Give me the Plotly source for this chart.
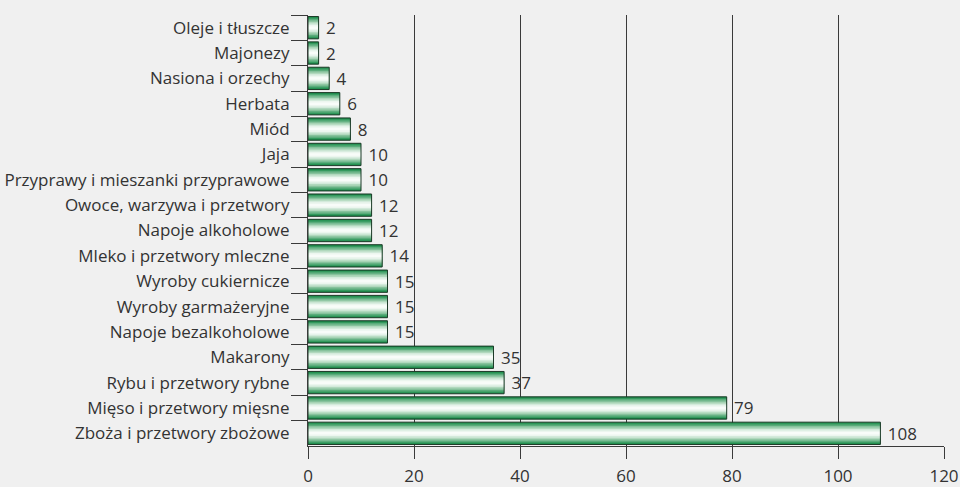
import plotly.graph_objects as go

categories = [
    "Oleje i tłuszcze", "Majonezy", "Nasiona i orzechy", "Herbata", "Miód", "Jaja",
    "Przyprawy i mieszanki przyprawowe", "Owoce, warzywa i przetwory", "Napoje alkoholowe",
    "Mleko i przetwory mleczne", "Wyroby cukiernicze", "Wyroby garmażeryjne",
    "Napoje bezalkoholowe", "Makarony", "Rybu i przetwory rybne",
    "Mięso i przetwory mięsne", "Zboża i przetwory zbożowe",
]
values = [2, 2, 4, 6, 8, 10, 10, 12, 12, 14, 15, 15, 15, 35, 37, 79, 108]
x_ticks = [0, 20, 40, 60, 80, 100, 120]

# gradient layers (width in category units, colour) – outer to inner
layers = [
    (0.88, "#178a47"), (0.80, "#33995d"), (0.70, "#5aac7b"), (0.58, "#86c29c"),
    (0.46, "#b0d8bd"), (0.34, "#d3eadb"), (0.22, "#ecf6ef"), (0.10, "#f8fcf9"),
]

FONT = "'Open Sans', sans-serif"
FS = 17

fig = go.Figure()
for w, c in layers:
    fig.add_trace(go.Bar(
        y=categories, x=values, orientation="h", width=w,
        marker=dict(color=c, line=dict(width=0)), hoverinfo="skip", showlegend=False,
    ))
fig.add_trace(go.Bar(
    y=categories, x=values, orientation="h", width=0.88,
    marker=dict(color="rgba(0,0,0,0)", line=dict(color="#1d3a28", width=1)),
    text=[" " + str(v) for v in values], textposition="outside", cliponaxis=False,
    textfont=dict(family=FONT, size=FS, color="#333333"),
    showlegend=False,
))

fig.update_layout(
    width=960, height=487, barmode="overlay",
    paper_bgcolor="#f0f0f0", plot_bgcolor="#f0f0f0",
    margin=dict(l=308, r=16, t=15, b=41, autoexpand=False),
    font=dict(family=FONT, size=FS, color="#333333"),
    uniformtext=dict(minsize=FS, mode="show"),
    xaxis=dict(
        range=[0, 120], tickvals=x_ticks, showgrid=True, gridcolor="#3a3a3a", gridwidth=1,
        zeroline=False, showline=True, linecolor="#3a3a3a", linewidth=1,
        ticks="outside", ticklen=12, tickcolor="#3a3a3a", tickfont=dict(size=FS),
        automargin=False, ticklabelstandoff=3,
    ),
    yaxis=dict(
        autorange="reversed", showline=True, linecolor="#3a3a3a", linewidth=1,
        ticks="outside", tickson="boundaries", ticklen=16, tickcolor="#3a3a3a",
        showgrid=False, tickfont=dict(size=FS), automargin=False, ticklabelstandoff=14,
    ),
)

fig.write_html("out.html")
